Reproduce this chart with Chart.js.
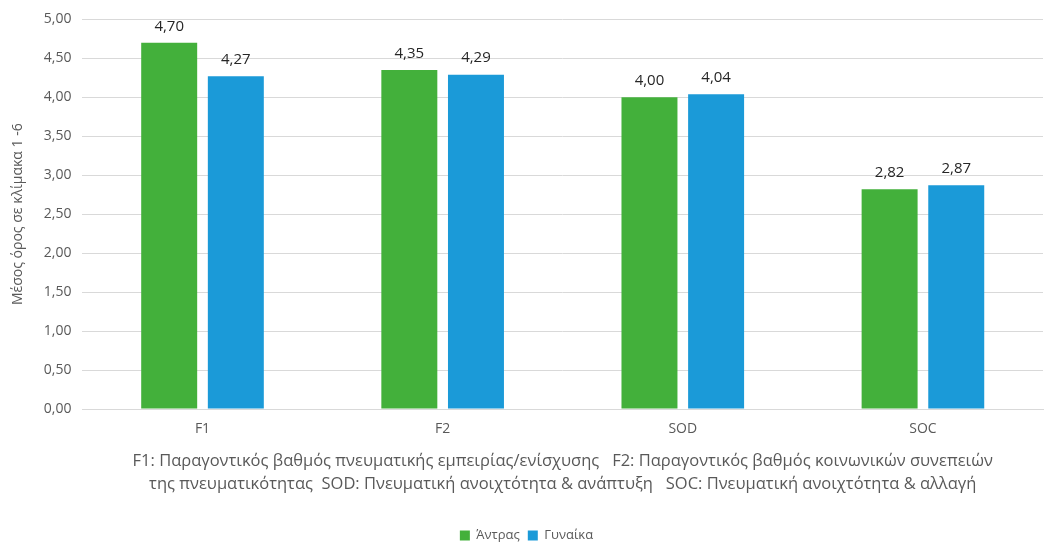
<!DOCTYPE html>
<html>
<head>
<meta charset="utf-8">
<script src="https://cdn.jsdelivr.net/npm/chart.js@4/dist/chart.umd.min.js"></script>
<style>
  html, body { margin: 0; padding: 0; background: #fff; }
  #box { width: 1055px; height: 542px; }
</style>
</head>
<body>
<div id="box"><canvas id="graph01"></canvas></div>
<script>
// données du graphique
const categories = ['F1', 'F2', 'SOD', 'SOC'];
const antras = [4.70, 4.35, 4.00, 2.82];
const gynaika = [4.27, 4.29, 4.04, 2.87];
const seriesNames = ['Άντρας', 'Γυναίκα'];
const yTicks = [0, 0.5, 1, 1.5, 2, 2.5, 3, 3.5, 4, 4.5, 5];

const COULEURS = {
  vert: '#43b03b',
  bleu: '#1b9ad8',
  grille: '#d9d9d9',
  texte: '#595959'
};

const POLICE = "'Open Sans', 'Noto Sans', sans-serif";

function virgule(v) {
  return v.toFixed(2).replace('.', ',');
}

/**
 * étiquettes au-dessus des barres
 */
const etiquettes = {
  id: 'etiquettes',
  afterDatasetsDraw(chart) {
    const ctx = chart.ctx;
    ctx.save();
    ctx.font = '15px ' + POLICE;
    ctx.fillStyle = '#262626';
    ctx.textAlign = 'center';
    ctx.textBaseline = 'bottom';
    chart.data.datasets.forEach((ds, i) => {
      chart.getDatasetMeta(i).data.forEach((bar, j) => {
        ctx.fillText(virgule(ds.data[j]), bar.x, bar.y - 9);
      });
    });
    ctx.restore();
  }
};

function dessine() {
  let data = {
    labels: categories,
    datasets: [
      { label: seriesNames[0], data: antras, backgroundColor: COULEURS.vert, categoryPercentage: 0.555, barPercentage: 0.84 },
      { label: seriesNames[1], data: gynaika, backgroundColor: COULEURS.bleu, categoryPercentage: 0.555, barPercentage: 0.84 }
    ]
  };
  let options = {
    responsive: true,
    maintainAspectRatio: false,
    animation: false,
    layout: { padding: { top: -8, right: 12, left: 10, bottom: -10 } },
    scales: {
      x: {
        grid: { display: false, drawTicks: false },
        border: { display: true, color: COULEURS.grille },
        ticks: { color: COULEURS.texte, font: { size: 14, family: POLICE }, padding: 12 },
        title: {
          display: true,
          text: [
            'F1: Παραγοντικός βαθμός πνευματικής εμπειρίας/ενίσχυσης   F2: Παραγοντικός βαθμός κοινωνικών συνεπειών',
            'της πνευματικότητας  SOD: Πνευματική ανοιχτότητα & ανάπτυξη   SOC: Πνευματική ανοιχτότητα & αλλαγή'
          ],
          color: COULEURS.texte,
          font: { size: 16.5, family: POLICE, lineHeight: 1.4 },
          padding: { top: 0, bottom: 25 }
        }
      },
      y: {
        min: 0,
        max: 5,
        afterBuildTicks: (axis) => { axis.ticks = yTicks.map(v => ({ value: v })); },
        grid: { color: COULEURS.grille, drawTicks: false },
        border: { display: false },
        ticks: { color: COULEURS.texte, font: { size: 14, family: POLICE }, padding: 11, callback: (v) => virgule(v) },
        title: { display: true, text: 'Μέσος όρος σε κλίμακα 1 -6', color: COULEURS.texte, font: { size: 14, family: POLICE }, padding: { top: 0, bottom: 6 } }
      }
    },
    plugins: {
      tooltip: { enabled: false },
      legend: {
        position: 'bottom',
        labels: { boxWidth: 10, boxHeight: 10, padding: 8, color: COULEURS.texte, font: { size: 13, family: POLICE } }
      }
    }
  };
  const ctx = document.getElementById('graph01').getContext('2d');
  new Chart(ctx, { type: 'bar', data: data, options: options, plugins: [etiquettes] });
}

dessine();
</script>
</body>
</html>
